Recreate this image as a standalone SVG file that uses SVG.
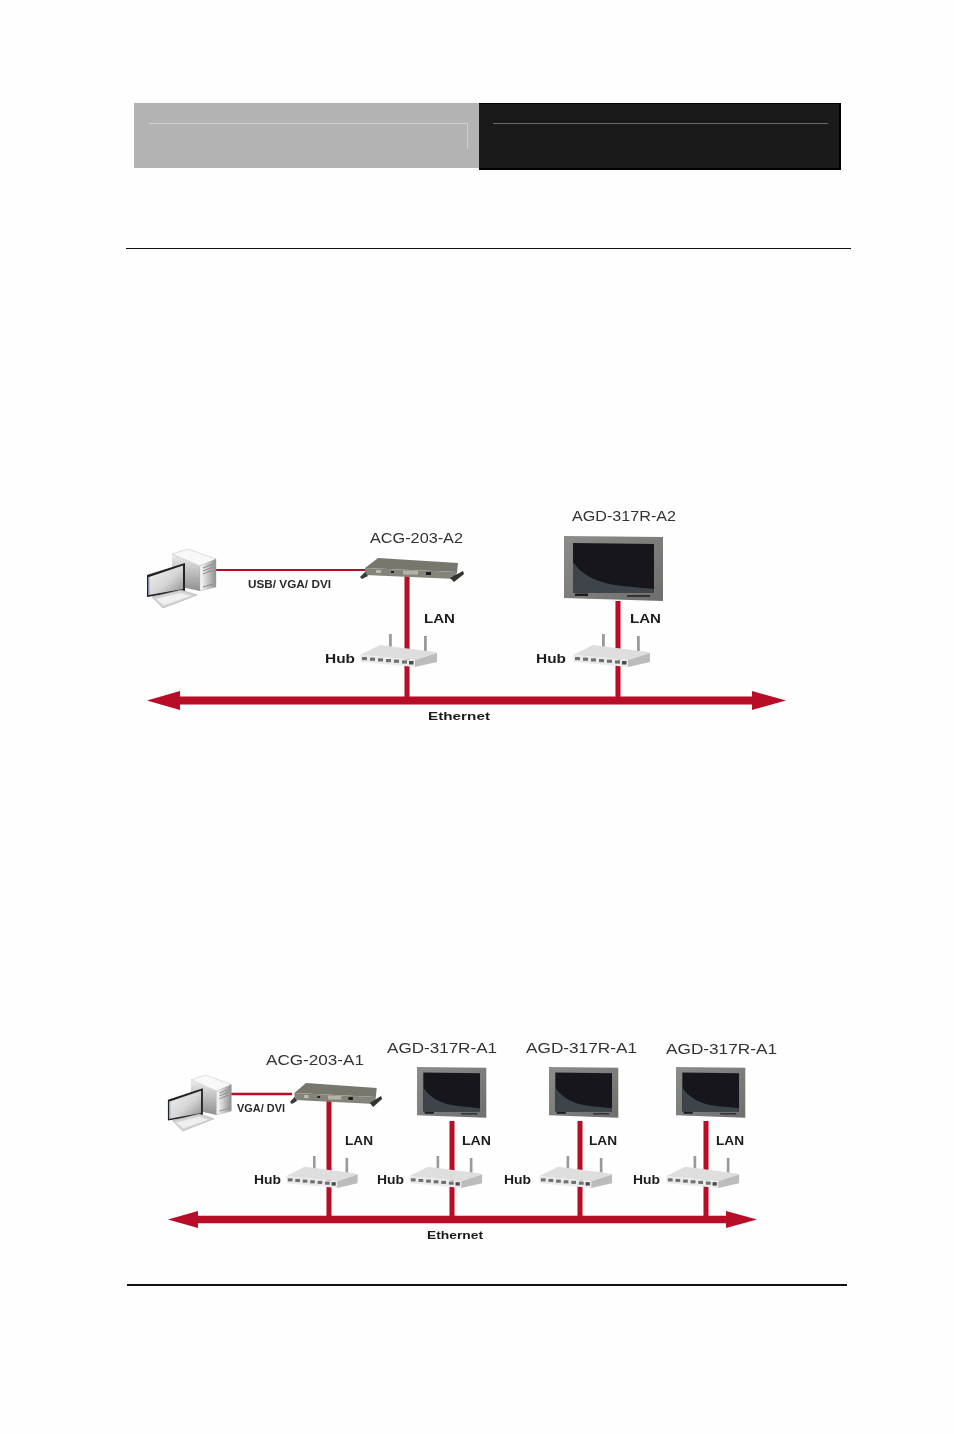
<svg xmlns="http://www.w3.org/2000/svg" width="954" height="1434" viewBox="0 0 954 1434">
<style>
text{font-family:"Liberation Sans",Arial,sans-serif;fill:#222;filter:url(#soft)}
.name{font-size:15px;fill:#333}
.b{font-weight:bold;font-size:13px;fill:#1c1c1c}
.s{font-weight:bold;font-size:10px;fill:#2a2a2a}
.e{font-weight:bold;font-size:11.5px;fill:#1c1c1c}
.red{stroke:#b80a26;fill:none}
.head{fill:#b80a26}
</style>
<defs>
<filter id="soft" x="-10%" y="-20%" width="120%" height="140%"><feGaussianBlur stdDeviation="0.3"/></filter>
<filter id="soft2" x="-5%" y="-5%" width="110%" height="110%"><feGaussianBlur stdDeviation="0.45"/></filter>
<linearGradient id="tower" x1="0" y1="0" x2="1" y2="0"><stop offset="0" stop-color="#fdfdfd"/><stop offset="1" stop-color="#8e8e8e"/></linearGradient>
<linearGradient id="towerF" x1="0" y1="0" x2="0" y2="1"><stop offset="0" stop-color="#fafafa"/><stop offset="1" stop-color="#8f8f8f"/></linearGradient>
<linearGradient id="scr" x1="0" y1="0" x2="1" y2="1"><stop offset="0" stop-color="#f2f2f2"/><stop offset=".55" stop-color="#d6d6d6"/><stop offset="1" stop-color="#8a8a8a"/></linearGradient>
<linearGradient id="frame" x1="0" y1="0" x2="1" y2="1"><stop offset="0" stop-color="#8c8c8a"/><stop offset="1" stop-color="#6e6e6c"/></linearGradient>
<g id="hub" filter="url(#soft2)">
<rect x="29" y="0" width="2.800" height="15" fill="#9a9a9a"/>
<rect x="64" y="2" width="2.800" height="16" fill="#9a9a9a"/>
<polygon points="0,21 20,11 75,18 77,19 55,26" fill="#dedede"/>
<polygon points="0,21 55,26 55,33 1,28" fill="#ebebeb"/>
<polygon points="55,26 77,19 77,28 55,33" fill="#bcbcbc"/>
<g fill="#6f6f6f"><rect x="2" y="23" width="5" height="3.200"/><rect x="10" y="23.600" width="5" height="3.200"/><rect x="18" y="24.300" width="5" height="3.200"/><rect x="26" y="25" width="5" height="3.200"/><rect x="34" y="25.600" width="5" height="3.200"/><rect x="42" y="26.400" width="5" height="3.200"/><rect x="49" y="27" width="4.500" height="3.500" fill="#4c4c4c"/></g>
</g>
<g id="monitor" filter="url(#soft2)">
<polygon points="0,0 99,1 99,65 0,62" fill="url(#frame)"/>
<polygon points="9,7 90,8 90,57 9,57" fill="#14191c"/>
<path d="M9 26Q22 46 58 50L90 53V57H9Z" fill="#3c454b"/>
<rect x="11" y="57.500" width="13" height="2.500" fill="#1e1e1e"/>
<rect x="63" y="59" width="23" height="2" fill="#333"/>
</g>
<g id="box" filter="url(#soft2)">
<polygon points="5,10 18,0 98,5 97,14" fill="#77776e"/>
<polygon points="5,10 97,14 96,21 5,17" fill="#84847a"/>
<polygon points="0,19 5,14 8,18 2,21" fill="#3a3a34"/>
<polygon points="90,20 103,13 104,16 94,24" fill="#33332e"/>
<rect x="43" y="12.500" width="15" height="4" fill="#b4b3a8"/>
<rect x="66" y="14" width="5" height="3" fill="#1f1f1f"/>
<rect x="16" y="12" width="5" height="3" fill="#bdbcaf"/>
<rect x="31" y="13" width="3" height="2" fill="#222"/>
</g>
<g id="pc" filter="url(#soft2)">
<polygon points="26,5 42,0 54,17 54,42 26,36" fill="url(#towerF)"/>
<polygon points="26,5 42,0 70,10 54,17" fill="#f8f8f8" stroke="#c9c9c9" stroke-width=".6"/>
<polygon points="54,17 70,10 70,38 54,42" fill="url(#tower)" stroke="#aaa" stroke-width=".4"/>
<path d="M57 19L67 15M57 22L67 18M57 25L67 21M57 38L67 35" stroke="#888" stroke-width="1"/>
<polygon points="1,26 39,14 39,42 1,48" fill="#222"/>
<polygon points="3,28 37,16.500 37,40 3,46" fill="url(#scr)"/>
<path d="M3 28V46" stroke="#9fb4d6" stroke-width="1.500"/>
<polygon points="6,48 35,41 51,46 17,59" fill="#d4d4d4" stroke="#a5a5a5" stroke-width=".6"/>
<polygon points="10,50 35,44 45,47 18,56" fill="#efefef"/>
</g>
</defs>
<rect width="954" height="1434" fill="#fefefe"/>
<g id="header">
<rect x="134" y="103" width="345" height="65" fill="#b3b3b3"/>
<path d="M149 123.500H467.500V149" fill="none" stroke="#cfcfcf" stroke-width="1"/>
<rect x="479" y="103" width="362" height="67" fill="#000"/>
<rect x="479" y="104" width="360" height="64" fill="#1a1a1a"/>
<path d="M493 123.500H828" stroke="#6a6a6a" stroke-width="1"/>
<path d="M126 248.500H851" stroke="#111" stroke-width="1"/>
<path d="M127 1285H847" stroke="#111" stroke-width="2"/>
</g>
<g id="connectors" filter="url(#soft2)">
<path class="red" stroke-width="2" d="M216 570H365"/>
<path class="red" stroke-width="5" d="M407 576V697M618 601V697"/>
<path class="red" stroke-width="8" d="M178 700.500H755"/>
<polygon class="head" points="147,700.500 180,691 180,710"/>
<polygon class="head" points="786,700.500 752,691 752,710"/>
<path class="red" stroke-width="2.500" d="M231 1094H292"/>
<path class="red" stroke-width="5" d="M329 1098V1217M452 1121V1217M580 1121V1217M706 1121V1217"/>
<path class="red" stroke-width="7.500" d="M196 1219.500H728"/>
<polygon class="head" points="168,1219.500 198,1211 198,1228"/>
<polygon class="head" points="757,1219.500 726,1211 726,1228"/>
</g>
<g id="pc-1"><use href="#pc" x="146" y="549"/></g>
<g id="gateway-1"><use href="#box" x="360" y="558"/><text class="name" x="370" y="543" textLength="93" lengthAdjust="spacingAndGlyphs">ACG-203-A2</text></g>
<g id="monitor-1"><use href="#monitor" x="564" y="536"/><text class="name" x="572" y="521" textLength="104" lengthAdjust="spacingAndGlyphs">AGD-317R-A2</text></g>
<g id="hub-1"><use href="#hub" x="360" y="634"/><text class="b" x="325" y="663" textLength="30" lengthAdjust="spacingAndGlyphs">Hub</text></g>
<g id="hub-2"><use href="#hub" transform="translate(573 634)"/><text class="b" x="536" y="663" textLength="30" lengthAdjust="spacingAndGlyphs">Hub</text></g>
<g id="labels-1">
<text class="s" x="248" y="588" textLength="83" lengthAdjust="spacingAndGlyphs">USB/ VGA/ DVI</text>
<text class="b" x="424" y="623" textLength="31" lengthAdjust="spacingAndGlyphs">LAN</text>
<text class="b" x="630" y="623" textLength="31" lengthAdjust="spacingAndGlyphs">LAN</text>
<text class="e" x="428" y="720" textLength="62" lengthAdjust="spacingAndGlyphs">Ethernet</text>
</g>
<g id="pc-2"><use href="#pc" transform="translate(167 1075) scale(.92 .95)"/></g>
<g id="gateway-2"><use href="#box" transform="translate(290 1083) scale(.885 1)"/><text class="name" x="266" y="1065" textLength="98" lengthAdjust="spacingAndGlyphs">ACG-203-A1</text></g>
<g id="monitor-2"><use href="#monitor" transform="translate(417 1067) scale(.7 .78)"/><text class="name" x="387" y="1053" textLength="110" lengthAdjust="spacingAndGlyphs">AGD-317R-A1</text></g>
<g id="monitor-3"><use href="#monitor" transform="translate(549 1067) scale(.7 .78)"/><text class="name" x="526" y="1053" textLength="111" lengthAdjust="spacingAndGlyphs">AGD-317R-A1</text></g>
<g id="monitor-4"><use href="#monitor" transform="translate(676 1067) scale(.7 .78)"/><text class="name" x="666" y="1054" textLength="111" lengthAdjust="spacingAndGlyphs">AGD-317R-A1</text></g>
<g id="hub-3"><use href="#hub" transform="translate(286 1156) scale(.93 .97)"/><text class="b" x="254" y="1184" textLength="27" lengthAdjust="spacingAndGlyphs">Hub</text></g>
<g id="hub-4"><use href="#hub" transform="translate(409 1156) scale(.95 .97)"/><text class="b" x="377" y="1184" textLength="27" lengthAdjust="spacingAndGlyphs">Hub</text></g>
<g id="hub-5"><use href="#hub" transform="translate(539 1156) scale(.95 .97)"/><text class="b" x="504" y="1184" textLength="27" lengthAdjust="spacingAndGlyphs">Hub</text></g>
<g id="hub-6"><use href="#hub" transform="translate(666 1156) scale(.95 .97)"/><text class="b" x="633" y="1184" textLength="27" lengthAdjust="spacingAndGlyphs">Hub</text></g>
<g id="labels-2">
<text class="s" x="237" y="1112" textLength="48" lengthAdjust="spacingAndGlyphs">VGA/ DVI</text>
<text class="b" x="345" y="1145" textLength="28" lengthAdjust="spacingAndGlyphs">LAN</text>
<text class="b" x="462" y="1145" textLength="29" lengthAdjust="spacingAndGlyphs">LAN</text>
<text class="b" x="589" y="1145" textLength="28" lengthAdjust="spacingAndGlyphs">LAN</text>
<text class="b" x="716" y="1145" textLength="28" lengthAdjust="spacingAndGlyphs">LAN</text>
<text class="e" x="427" y="1239" textLength="56" lengthAdjust="spacingAndGlyphs">Ethernet</text>
</g>
</svg>
